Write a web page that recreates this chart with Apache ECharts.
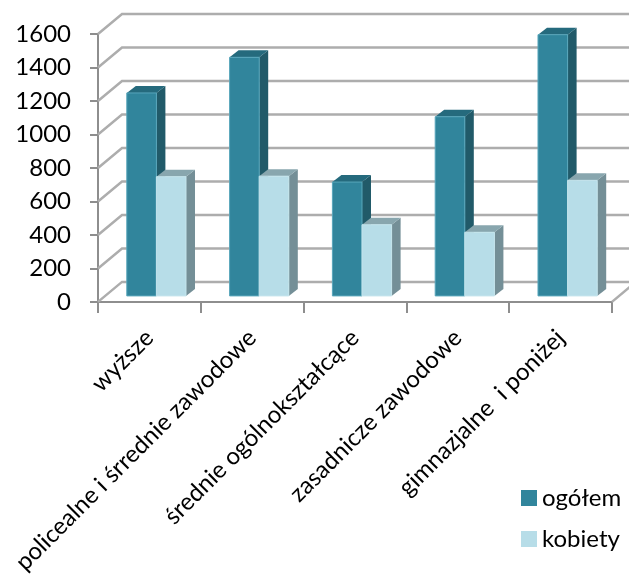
<!DOCTYPE html>
<html><head><meta charset="utf-8">
<style>html,body{margin:0;padding:0;background:#fff}#c{width:629px;height:577px}</style>
<script src="https://cdn.jsdelivr.net/npm/echarts@6/dist/echarts.min.js"></script>
</head><body><div id="c"></div>
<script>
const categories = ['wyższe','policealne i śrrednie zawodowe','średnie ogólnokształcące','zasadnicze zawodowe','gimnazjalne  i poniżej'];
const ogolem = [1212, 1425, 680, 1070, 1560];
const kobiety = [712, 715, 425, 380, 690];
const yTicks = [0,200,400,600,800,1000,1200,1400,1600];

const FONT = 'Lato';
const WALL_DX = 24, WALL_DY = -20;
const BAR_DX = 9, BAR_DY = -7, OFF_X = 7, OFF_Y = -6, BAR_RATIO = 0.288;

function bar(slot, front, top, side, edge) {
  return function (params, api) {
    const w = api.size([1, 0])[0] * BAR_RATIO;
    const p = api.coord([api.value(0), api.value(1)]);
    const b = api.coord([api.value(0), 0]);
    const x0 = p[0] + OFF_X + (slot - 1) * w, x1 = x0 + w;
    const yt = p[1] + OFF_Y, yb = b[1] + OFF_Y;
    return { type: 'group', children: [
      { type: 'polygon', shape: { points: [[x1,yt],[x1+BAR_DX,yt+BAR_DY],[x1+BAR_DX,yb+BAR_DY],[x1,yb]] }, style: { fill: side } },
      { type: 'polygon', shape: { points: [[x0,yt],[x0+BAR_DX,yt+BAR_DY],[x1+BAR_DX,yt+BAR_DY],[x1,yt]] }, style: { fill: top } },
      { type: 'rect', shape: { x: x0, y: yt, width: w, height: yb - yt }, style: { fill: front, stroke: edge, lineWidth: 1 } }
    ]};
  };
}
function wall(params, api) {
  const cs = params.coordSys;
  const y = api.coord([0, api.value(0)])[1];
  const x = cs.x, xr = cs.x + cs.width;
  const st = { stroke: '#adadad', lineWidth: 2.5, fill: 'none' };
  const pts = [[x, y], [x + WALL_DX, y + WALL_DY], [xr + WALL_DX, y + WALL_DY]];
  const kids = [{ type: 'polyline', shape: { points: pts }, style: st }];
  if (api.value(0) === 0) kids.push({ type: 'line', shape: { x1: xr, y1: y, x2: xr + WALL_DX, y2: y + WALL_DY }, style: st });
  return { type: 'group', children: kids };
}
const chart = echarts.init(document.getElementById('c'), null, { renderer: 'canvas' });
chart.setOption({
  animation: false,
  backgroundColor: '#fff',
  grid: { left: 98, top: 34, width: 514, height: 268 },
  legend: {
    data: ['ogółem', 'kobiety'], orient: 'vertical', left: 516, top: 481, itemWidth: 16, itemHeight: 16, itemGap: 17,
    icon: 'rect', textStyle: { fontFamily: FONT, fontSize: 24, color: '#000', padding: [0, 0, 0, 0] }
  },
  xAxis: {
    type: 'category', data: categories, boundaryGap: true,
    axisLine: { lineStyle: { color: '#8e8e8e', width: 2 } },
    axisTick: { show: true, length: 11, alignWithLabel: false, lineStyle: { color: '#8e8e8e', width: 2 } },
    axisLabel: { interval: 0, rotate: 45, margin: 32, fontFamily: FONT, fontSize: 24, color: '#000', hideOverlap: false },
    splitLine: { show: false }
  },
  yAxis: {
    type: 'value', min: 0, max: 1600, interval: 200,
    axisLine: { show: true, lineStyle: { color: '#8e8e8e', width: 2 } },
    axisTick: { show: true, length: 8, lineStyle: { color: '#8e8e8e', width: 2 } },
    axisLabel: { margin: 27, fontFamily: FONT, fontSize: 24, color: '#000', padding: [6, 0, 0, 0], formatter: v => String(v) },
    splitLine: { show: false }
  },
  series: [
    { type: 'custom', name: 'walls', silent: true, z: 1, data: yTicks.map(v => [v]), encode: { y: 0 }, renderItem: wall },
    { type: 'custom', name: 'ogółem', z: 2, itemStyle: { color: '#31859c' }, encode: { x: 0, y: 1 },
      data: ogolem.map((v, i) => [i, v]), renderItem: bar(0, '#31859c', '#256a7d', '#215a69', '#58a6bb') },
    { type: 'custom', name: 'kobiety', z: 3, itemStyle: { color: '#b7dde8' }, encode: { x: 0, y: 1 },
      data: kobiety.map((v, i) => [i, v]), renderItem: bar(1, '#b7dde8', '#88a6ae', '#748f97', '#c4e4ec') }
  ]
});
</script></body></html>
